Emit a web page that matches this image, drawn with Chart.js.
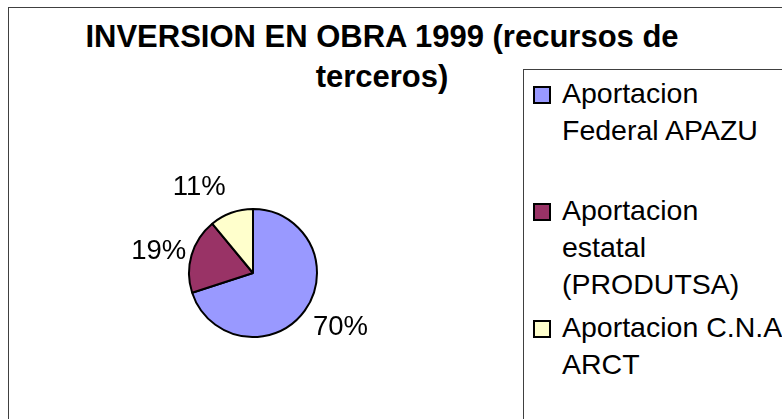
<!DOCTYPE html>
<html>
<head>
<meta charset="utf-8">
<script src="https://cdn.jsdelivr.net/npm/chart.js@4/dist/chart.umd.min.js"></script>
<style>
  html, body { margin: 0; padding: 0; background: #fff; overflow: hidden; }
  body { width: 782px; height: 419px; position: relative; font-family: "Liberation Sans", Arial, sans-serif; }
  #frame { position: absolute; left: 8px; top: 7px; width: 900px; height: 600px; border: 1px solid #404040; }
  #title { position: absolute; left: 0; top: 17px; width: 764px; text-align: center;
           font-weight: bold; font-size: 31px; line-height: 40px; color: #000; }
  #legend { position: absolute; left: 523px; top: 69px; width: 400px; height: 500px;
            border: 1px solid #404040; background: #fff; }
  .item { position: absolute; left: 0; height: 117px; width: 100%; }
  .item .sw { position: absolute; left: 9px; top: 11.5px; width: 18px; height: 18px;
              box-sizing: border-box; border: 2px solid #000; }
  .item .tx { position: absolute; left: 38px; top: 0; font-size: 28.5px; line-height: 37px;
              color: #000; white-space: nowrap; }
  #pie { position: absolute; left: 103px; top: 143px; }
</style>
</head>
<body>
<div id="frame"></div>
<div id="title"></div>
<canvas id="pie" width="300" height="260"></canvas>
<div id="legend"></div>

<script>
/* ------------------------------------------------------------
   Data
   ------------------------------------------------------------ */
const chartTitle = ['INVERSION EN OBRA 1999 (recursos de', 'terceros)'];
const categories = [
  ['Aportacion', 'Federal APAZU'],
  ['Aportacion', 'estatal', '(PRODUTSA)'],
  ['Aportacion C.N.A.', 'ARCT']
];
const shares = [70, 19, 11];
const sliceColors = ['#9999FF', '#993366', '#FFFFCC'];

/* Title + legend as plain html text */
function buildTitle() {
  document.getElementById('title').innerHTML = chartTitle.join('<br>');
}

function buildLegend() {
  const box = document.getElementById('legend');
  categories.forEach((lines, i) => {
    const item = document.createElement('div');
    item.className = 'item';
    item.style.top = (4.6 + i * 117) + 'px';
    const sw = document.createElement('div');
    sw.className = 'sw';
    sw.style.background = sliceColors[i];
    const tx = document.createElement('div');
    tx.className = 'tx';
    tx.innerHTML = lines.join('<br>');
    item.appendChild(sw);
    item.appendChild(tx);
    box.appendChild(item);
  });
}

/* Percent labels outside the slices */
const pctLabels = {
  id: 'pctLabels',
  afterDatasetsDraw(chart, args, opts) {
    const ctx = chart.ctx;
    const meta = chart.getDatasetMeta(0);
    const values = chart.data.datasets[0].data;
    const total = values.reduce((a, b) => a + b, 0);
    ctx.save();
    ctx.font = opts.font;
    ctx.fillStyle = '#000';
    ctx.textAlign = 'center';
    ctx.textBaseline = 'middle';
    meta.data.forEach((arc, i) => {
      const p = arc.getProps(['x', 'y', 'startAngle', 'endAngle', 'outerRadius'], true);
      const mid = (p.startAngle + p.endAngle) / 2;
      const r = p.outerRadius + opts.distance;
      const n = opts.nudge[i] || [0, 0];
      const x = p.x + Math.cos(mid) * r + n[0];
      const y = p.y + Math.sin(mid) * r + n[1];
      ctx.fillText(Math.round(values[i] / total * 100) + '%', x, y);
    });
    ctx.restore();
  }
};

function initPie() {
  const ctx = document.getElementById('pie');
  window.pieChart = new Chart(ctx, {
    type: 'pie',
    data: {
      labels: categories.map(l => l.join(' ')),
      datasets: [{
        data: shares,
        backgroundColor: sliceColors,
        borderColor: '#000',
        borderWidth: 2
      }]
    },
    options: {
      responsive: false,
      animation: false,
      radius: 64,
      layout: { padding: 0 },
      plugins: {
        legend: { display: false },
        tooltip: { enabled: false },
        pctLabels: {
          font: '27.5px "Liberation Sans", Arial, sans-serif',
          distance: 30,
          nudge: [[11.5, -1], [-4, 5], [-22, 2.5]]
        }
      }
    },
    plugins: [pctLabels]
  });
}

buildTitle();
buildLegend();
initPie();
</script>
</body>
</html>
